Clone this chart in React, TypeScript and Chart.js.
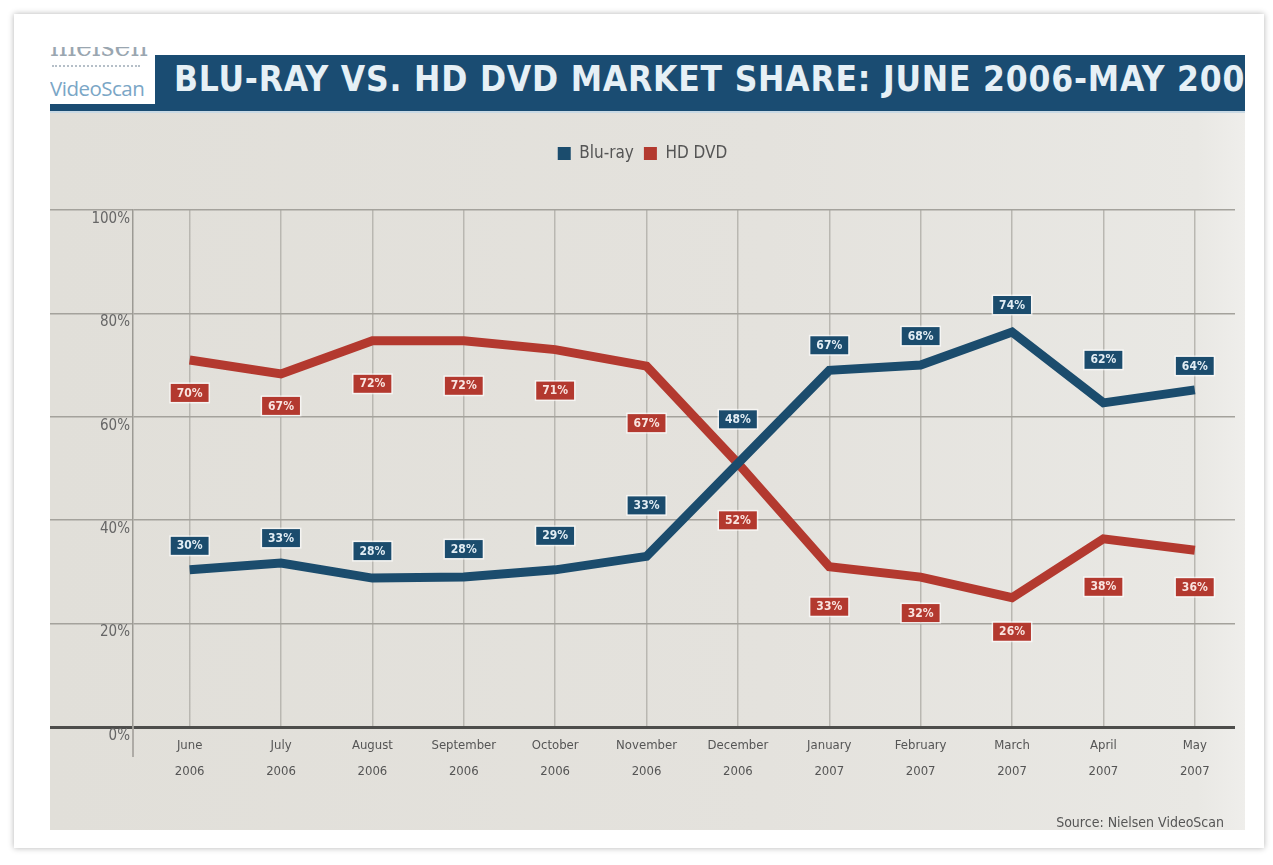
import React, { useEffect, useRef } from "react";
import { Chart, registerables } from "chart.js";

Chart.register(...registerables);

// ---- data ----
const months = ["June", "July", "August", "September", "October", "November", "December", "January", "February", "March", "April", "May"];
const years = ["2006", "2006", "2006", "2006", "2006", "2006", "2006", "2007", "2007", "2007", "2007", "2007"];
const bluRay = [30.4, 31.7, 28.8, 29, 30.4, 33, 51, 69, 70, 76.4, 62.7, 65.2];
const hdDvd = [71, 68.3, 74.7, 74.7, 73, 69.8, 51, 31, 29, 25, 36.4, 34.2];
const bluRayLabels = ["30%", "33%", "28%", "28%", "29%", "33%", "48%", "67%", "68%", "74%", "62%", "64%"];
const hdDvdLabels = ["70%", "67%", "72%", "72%", "71%", "67%", "52%", "33%", "32%", "26%", "38%", "36%"];
const yTickValues = [0, 20, 40, 60, 80, 100];

// ---- label placement (pixel offsets from each point) ----
const bluRayLabelDy = [-24, -25, -27, -28, -34, -51, -44, -25, -29, -27, -43, -24];
const hdDvdLabelDy = [33, 32, 43, 45, 41, 57, 57, 40, 36, 34, 48, 37];

const BLUE = "#1b4c6d";
const RED = "#b3392f";
const NARROW = '"Liberation Sans Narrow", "DejaVu Sans Condensed", "Arial Narrow", sans-serif';

export default function App() {
  const ref = useRef<HTMLCanvasElement>(null);

  useEffect(() => {
    if (!ref.current) return;

    const legendSpacing = {
      id: "legendSpacing",
      beforeInit(chart: any) {
        const orig = chart.legend.fit;
        chart.legend.fit = function () {
          orig.call(this);
          this.height += 38;
        };
      },
    };

    const yLabels = {
      id: "yLabels",
      afterDraw(chart: any) {
        const ctx = chart.ctx;
        const ys = chart.scales.y;
        const area = chart.chartArea;
        ctx.save();
        ctx.strokeStyle = "#9c9a94";
        ctx.lineWidth = 1.5;
        ctx.beginPath();
        ctx.moveTo(area.left, area.bottom);
        ctx.lineTo(area.left, area.bottom + 30);
        ctx.stroke();
        ctx.font = `15px ${NARROW}`;
        ctx.fillStyle = "#666";
        ctx.textAlign = "right";
        ctx.textBaseline = "middle";
        yTickValues.forEach((v) => {
          ctx.fillText(`${v}%`, area.left - 3, ys.getPixelForValue(v) + 9);
        });
        ctx.restore();
      },
    };

    const pointLabels = {
      id: "pointLabels",
      afterDatasetsDraw(chart: any) {
        const ctx = chart.ctx;
        const sets = [
          { idx: 0, texts: bluRayLabels, dy: bluRayLabelDy, fill: BLUE, color: "#e2edf4" },
          { idx: 1, texts: hdDvdLabels, dy: hdDvdLabelDy, fill: RED, color: "#f9e4e0" },
        ];
        ctx.save();
        ctx.font = `bold 12px ${NARROW}`;
        ctx.textAlign = "center";
        ctx.textBaseline = "middle";
        sets.forEach((s) => {
          const meta = chart.getDatasetMeta(s.idx);
          meta.data.forEach((pt: any, j: number) => {
            const cx = pt.x;
            const cy = pt.y + s.dy[j];
            const w = ctx.measureText(s.texts[j]).width + 12;
            const h = 18;
            ctx.fillStyle = "rgba(255,255,255,0.65)";
            ctx.fillRect(cx - w / 2 - 1.5, cy - h / 2 - 1.5, w + 3, h + 3);
            ctx.fillStyle = s.fill;
            ctx.fillRect(cx - w / 2, cy - h / 2, w, h);
            ctx.fillStyle = s.color;
            ctx.fillText(s.texts[j], cx, cy + 0.5);
          });
        });
        ctx.restore();
      },
    };

    const chart = new Chart(ref.current, {
      type: "line",
      data: {
        datasets: [
          {
            label: "Blu-ray",
            data: bluRay.map((v, i) => ({ x: i, y: v })),
            borderColor: BLUE,
            backgroundColor: BLUE,
            borderWidth: 9,
            pointRadius: 0,
            tension: 0,
            borderJoinStyle: "miter",
          },
          {
            label: "HD DVD",
            data: hdDvd.map((v, i) => ({ x: i, y: v })),
            borderColor: RED,
            backgroundColor: RED,
            borderWidth: 9,
            pointRadius: 0,
            tension: 0,
            borderJoinStyle: "miter",
          },
        ],
      },
      options: {
        animation: false,
        responsive: true,
        maintainAspectRatio: false,
        layout: { padding: { top: 22, right: 10, bottom: 39, left: 0 } },
        plugins: {
          legend: {
            display: true,
            position: "top",
            labels: {
              boxWidth: 13,
              boxHeight: 13,
              padding: 10,
              color: "#555",
              font: { family: NARROW, size: 17 },
              generateLabels: (c: any) =>
                c.data.datasets.map((ds: any, i: number) => ({
                  text: ds.label,
                  fillStyle: ds.borderColor,
                  strokeStyle: ds.borderColor,
                  lineWidth: 0,
                  hidden: false,
                  datasetIndex: i,
                  fontColor: "#555",
                })),
            },
          },
          tooltip: { enabled: false },
        },
        scales: {
          x: {
            type: "linear",
            min: -0.62,
            max: 11.44,
            afterBuildTicks: (axis: any) => {
              axis.ticks = months.map((_, i) => ({ value: i }));
            },
            ticks: {
              autoSkip: false,
              maxRotation: 0,
              padding: 6,
              color: "#555",
              font: { family: NARROW, size: 13, lineHeight: 2 },
              callback: (value: any) => [months[value], years[value]],
            },
            grid: { color: "#b9b7b1", lineWidth: 1.5, drawTicks: false },
            border: { display: false },
          },
          y: {
            min: 0,
            max: 100,
            afterBuildTicks: (axis: any) => {
              axis.ticks = yTickValues.map((v) => ({ value: v }));
            },
            ticks: { display: false },
            grid: {
              color: (c: any) => (c.tick && c.tick.value === 0 ? "#4d4d4b" : "#a4a29c"),
              lineWidth: (c: any) => (c.tick && c.tick.value === 0 ? 3 : 1.5),
              drawTicks: true,
              tickLength: 83,
            },
            border: { display: true, color: "#9c9a94", width: 1.5 },
          },
        },
      },
      plugins: [legendSpacing, pointLabels, yLabels],
    } as any);

    return () => chart.destroy();
  }, []);

  return (
    <div style={{ position: "fixed", left: 0, top: 0, width: 1273, height: 865, background: "#fff", overflow: "hidden" }}>
      <div
        style={{
          position: "absolute",
          left: 14,
          top: 14,
          width: 1250,
          height: 834,
          background: "#fff",
          boxShadow: "0 0 6px rgba(0,0,0,0.3)",
        }}
      />
      {/* logo */}
      <div style={{ position: "absolute", left: 50, top: 47, width: 105, height: 58, background: "#fff", overflow: "hidden" }}>
        <div style={{ position: "absolute", left: 0, top: -16, fontFamily: '"DejaVu Serif", serif', fontSize: 27, color: "#9aa6b0", letterSpacing: 0 }}>
          nielsen
        </div>
        <div style={{ position: "absolute", left: 2, top: 18, width: 88, borderTop: "2px dotted #b5bfc8" }} />
        <div style={{ position: "absolute", left: 0, top: 27, fontFamily: '"Open Sans", sans-serif', fontSize: 20.5, color: "#7aa6c6", letterSpacing: -0.5 }}>
          VideoScan
        </div>
      </div>
      {/* title bar */}
      <div
        style={{
          position: "absolute",
          left: 155,
          top: 55,
          width: 1090,
          height: 50,
          background: "#1a4c72",
          overflow: "hidden",
          whiteSpace: "nowrap",
        }}
      >
        <div
          style={{
            position: "absolute",
            left: 19,
            top: 4,
            fontFamily: '"DejaVu Sans Condensed", "DejaVu Sans", sans-serif',
            fontWeight: "bold",
            fontSize: 35,
            letterSpacing: 0.8,
            color: "#e6f0f6",
          }}
        >
          BLU-RAY VS. HD DVD MARKET SHARE: JUNE 2006-MAY 2007
        </div>
      </div>
      <div style={{ position: "absolute", left: 50, top: 104, width: 1195, height: 7, background: "#1a4c72" }} />
      <div style={{ position: "absolute", left: 50, top: 111, width: 1195, height: 2, background: "#c9d9e4" }} />
      {/* panel */}
      <div
        style={{
          position: "absolute",
          left: 50,
          top: 113,
          width: 1195,
          height: 717,
          background: "linear-gradient(90deg, #e1dfd9 0%, #e4e2dd 60%, #e9e8e4 96%, #efeeeb 100%)",
        }}
      >
        <canvas ref={ref} />
      </div>
      <div
        style={{
          position: "absolute",
          right: 1273 - 1224,
          top: 814,
          fontFamily: NARROW,
          fontSize: 14,
          color: "#555",
        }}
      >
        Source: Nielsen VideoScan
      </div>
    </div>
  );
}
